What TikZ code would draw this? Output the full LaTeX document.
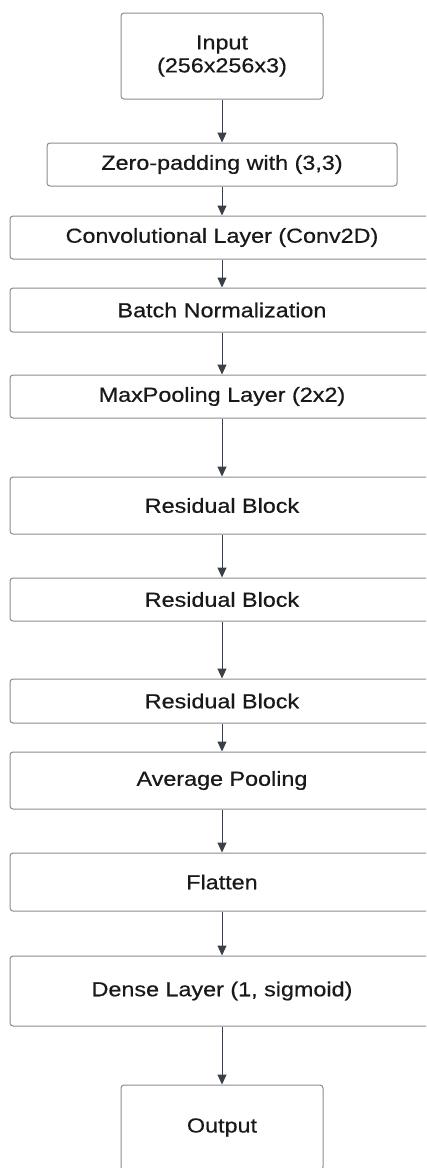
\documentclass[tikz,border=0pt]{standalone}
\usepackage{fontspec}
\setmainfont{Liberation Sans}[FakeStretch=1.15, FakeBold=0.5]
\usetikzlibrary{arrows.meta}
\definecolor{edgegray}{HTML}{8C8C8C}
\definecolor{arrowdark}{HTML}{3B3F48}
\tikzset{
  layerbox/.style={draw=edgegray, line width=1pt, rounded corners=3pt, fill=white,
    inner sep=0pt, align=center, text=black!90,
    font=\fontsize{20.3}{23}\selectfont},
  flow/.style={draw=arrowdark, line width=1pt, -{Triangle[width=9pt,length=10pt]}}
}
\begin{document}
\begin{tikzpicture}[x=1pt,y=1pt]
  \useasboundingbox (0,0) rectangle (426,-1168);
  \clip (0,0) rectangle (426,-1168);
  \fill[white] (0,0) rectangle (426,-1168);

  \node[layerbox, minimum width=202pt, minimum height=86pt] (inp) at (222,-56) {Input\\(256x256x3)};
  \node[layerbox, minimum width=350pt, minimum height=43pt] (zp) at (222,-164.5) {Zero-padding with (3,3)};
  \node[layerbox, minimum width=424pt, minimum height=43pt] (conv) at (222,-237.5) {Convolutional Layer (Conv2D)};
  \node[layerbox, minimum width=424pt, minimum height=44pt] (bn) at (222,-310) {Batch Normalization};
  \node[layerbox, minimum width=424pt, minimum height=43pt] (mp) at (222,-396.5) {MaxPooling Layer (2x2)};
  \node[layerbox, minimum width=424pt, minimum height=57pt] (rb1) at (222,-505.5) {Residual Block};
  \node[layerbox, minimum width=424pt, minimum height=43pt] (rb2) at (222,-599.5) {Residual Block};
  \node[layerbox, minimum width=424pt, minimum height=44pt] (rb3) at (222,-701) {Residual Block};
  \node[layerbox, minimum width=424pt, minimum height=57pt] (avg) at (222,-780.5) {Average Pooling};
  \node[layerbox, minimum width=424pt, minimum height=58pt] (fl) at (222,-882) {Flatten};
  \node[layerbox, minimum width=424pt, minimum height=70pt] (dn) at (222,-991) {Dense Layer (1, sigmoid)};
  \node[layerbox, minimum width=202pt, minimum height=85pt] (out) at (222,-1127.5) {Output};

  \foreach \a/\b in {inp/zp, zp/conv, conv/bn, bn/mp, mp/rb1, rb1/rb2, rb2/rb3, rb3/avg, avg/fl, fl/dn, dn/out}
    \draw[flow] (\a.south) -- (\b.north);
\end{tikzpicture}
\end{document}
